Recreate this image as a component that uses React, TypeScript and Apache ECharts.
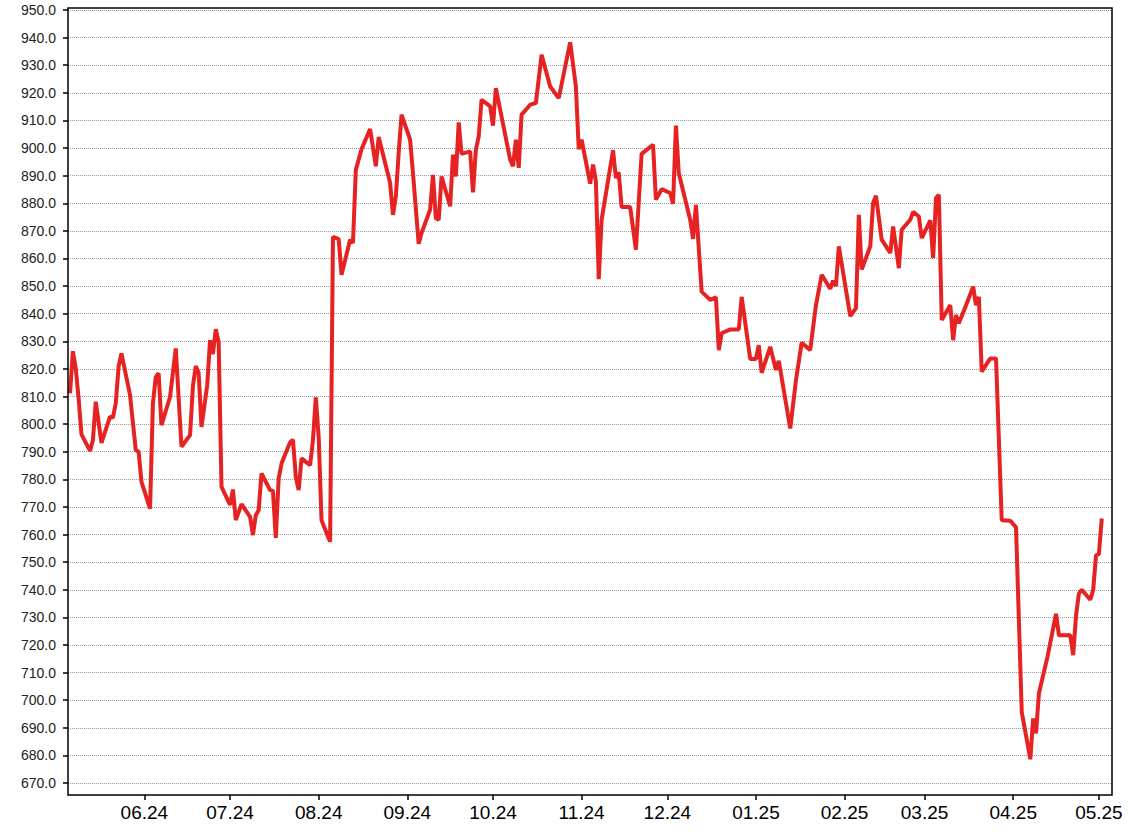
import React, { useEffect, useRef } from "react";
import * as echarts from "echarts";

const dates: string[] = [
  "2024-05-06", "2024-05-07", "2024-05-08", "2024-05-09", "2024-05-10", "2024-05-13", "2024-05-14", "2024-05-15",
  "2024-05-17", "2024-05-20", "2024-05-21", "2024-05-22", "2024-05-23", "2024-05-24", "2024-05-27", "2024-05-29",
  "2024-05-30", "2024-05-31",
  "2024-06-03", "2024-06-04", "2024-06-05", "2024-06-06", "2024-06-07", "2024-06-10", "2024-06-12", "2024-06-14",
  "2024-06-17", "2024-06-18", "2024-06-19", "2024-06-20", "2024-06-21", "2024-06-23", "2024-06-24", "2024-06-25",
  "2024-06-26", "2024-06-27", "2024-06-28",
  "2024-07-01", "2024-07-02", "2024-07-03", "2024-07-05", "2024-07-08", "2024-07-09", "2024-07-10", "2024-07-11",
  "2024-07-12", "2024-07-15", "2024-07-16", "2024-07-17", "2024-07-18", "2024-07-19", "2024-07-22", "2024-07-23",
  "2024-07-24", "2024-07-25", "2024-07-26", "2024-07-29", "2024-07-30", "2024-07-31",
  "2024-08-01", "2024-08-02", "2024-08-05", "2024-08-06", "2024-08-08", "2024-08-09", "2024-08-12", "2024-08-13",
  "2024-08-14", "2024-08-16", "2024-08-19", "2024-08-21", "2024-08-22", "2024-08-26", "2024-08-27", "2024-08-28",
  "2024-08-29", "2024-08-30",
  "2024-09-02", "2024-09-03", "2024-09-05", "2024-09-06", "2024-09-09", "2024-09-10", "2024-09-11", "2024-09-12",
  "2024-09-13", "2024-09-16", "2024-09-17", "2024-09-18", "2024-09-19", "2024-09-20", "2024-09-23", "2024-09-24",
  "2024-09-25", "2024-09-26", "2024-09-27", "2024-09-30",
  "2024-10-01", "2024-10-02", "2024-10-07", "2024-10-08", "2024-10-09", "2024-10-10", "2024-10-11", "2024-10-14",
  "2024-10-16", "2024-10-18", "2024-10-21", "2024-10-24", "2024-10-28", "2024-10-30", "2024-10-31",
  "2024-11-01", "2024-11-04", "2024-11-05", "2024-11-06", "2024-11-07", "2024-11-08", "2024-11-12", "2024-11-13",
  "2024-11-14", "2024-11-15", "2024-11-18", "2024-11-20", "2024-11-22", "2024-11-26", "2024-11-27", "2024-11-29",
  "2024-12-02", "2024-12-03", "2024-12-04", "2024-12-05", "2024-12-09", "2024-12-10", "2024-12-11", "2024-12-13",
  "2024-12-16", "2024-12-18", "2024-12-19", "2024-12-20", "2024-12-23", "2024-12-26", "2024-12-27", "2024-12-30",
  "2025-01-01", "2025-01-02", "2025-01-03", "2025-01-06", "2025-01-08", "2025-01-09", "2025-01-13", "2025-01-15",
  "2025-01-17", "2025-01-20", "2025-01-22", "2025-01-24", "2025-01-27", "2025-01-28", "2025-01-29", "2025-01-30",
  "2025-02-03", "2025-02-05", "2025-02-06", "2025-02-07", "2025-02-10", "2025-02-11", "2025-02-12", "2025-02-14",
  "2025-02-17", "2025-02-18", "2025-02-20", "2025-02-21", "2025-02-24", "2025-02-25", "2025-02-27", "2025-02-28",
  "2025-03-03", "2025-03-04", "2025-03-05", "2025-03-06", "2025-03-07", "2025-03-10", "2025-03-11", "2025-03-12",
  "2025-03-13", "2025-03-16", "2025-03-18", "2025-03-19", "2025-03-20", "2025-03-21", "2025-03-24", "2025-03-26",
  "2025-03-28", "2025-03-31",
  "2025-04-02", "2025-04-04", "2025-04-07", "2025-04-08", "2025-04-09", "2025-04-10", "2025-04-13", "2025-04-16",
  "2025-04-17", "2025-04-21", "2025-04-22", "2025-04-23", "2025-04-24", "2025-04-25", "2025-04-28", "2025-04-29",
  "2025-04-30", "2025-05-01", "2025-05-02",
];

const values: number[] = [
  811.1, 826.4, 820.2, 809.3, 796.3, 790.3, 794.2, 808.1,
  793.2, 802.7, 802.3, 807.5, 820.8, 825.6, 810.5, 790.6,
  790.0, 779.1,
  769.4, 807.5, 817.1, 818.4, 799.6, 809.9, 827.4, 791.8,
  796.0, 813.8, 821.0, 818.6, 799.0, 814.1, 830.4, 825.4,
  834.4, 829.8, 777.3,
  770.7, 776.3, 765.2, 771.0, 766.4, 759.8, 767.0, 768.8,
  782.1, 776.1, 775.8, 758.8, 780.3, 785.7, 793.4, 794.4,
  780.9, 776.1, 787.6, 785.1, 794.2, 809.7,
  795.4, 765.2, 757.4, 867.8, 867.0, 854.1, 866.8, 865.6,
  892.1, 899.6, 906.9, 893.4, 904.0, 887.3, 875.8, 882.5,
  898.2, 912.1,
  903.0, 890.9, 865.3, 869.2, 877.7, 890.3, 874.6, 874.0,
  889.7, 878.9, 897.6, 889.7, 909.3, 897.9, 898.8, 883.9,
  899.4, 904.2, 917.5, 915.1,
  908.1, 921.7, 895.8, 893.4, 903.0, 892.8, 912.1, 915.7,
  916.3, 933.8, 922.3, 918.1, 938.3, 922.3, 899.6,
  903.0, 887.1, 894.0, 887.9, 852.5, 874.0, 899.2, 889.1,
  891.2, 878.6, 878.6, 863.2, 897.9, 901.2, 881.3, 885.1,
  883.7, 879.8, 908.1, 890.9, 874.0, 867.1, 879.4, 848.0,
  845.0, 845.9, 826.8, 832.9, 834.3, 834.3, 846.1, 823.6,
  823.6, 828.6, 818.6, 828.0, 819.6, 822.9, 798.4, 815.9,
  829.5, 826.8, 843.1, 854.1, 849.0, 852.0, 850.0, 864.4,
  839.1, 842.0, 875.8, 856.0, 864.4, 880.1, 882.7, 866.8,
  862.0, 871.6, 856.5, 870.4, 874.0, 876.9, 875.2, 867.4,
  873.8, 860.1, 881.9, 883.1, 837.7, 843.1, 830.4, 839.5,
  836.5, 844.3, 849.8, 843.1, 846.1, 819.0, 823.8, 823.8,
  765.2, 765.0,
  762.6, 695.8, 678.6, 693.4, 688.0, 702.4, 715.7, 731.3,
  723.5, 723.5, 716.3, 730.7, 738.6, 740.0, 736.4, 740.0,
  752.5, 752.9, 765.8,
];

const monthTicks: string[] = [
  "2024-06-01", "2024-07-01", "2024-08-01", "2024-09-01", "2024-10-01", "2024-11-01",
  "2024-12-01", "2025-01-01", "2025-02-01", "2025-03-01", "2025-04-01", "2025-05-01",
];

const yMin = 670;
const yMax = 950;
const yStep = 10;

function utc(s: string): number {
  const [y, m, d] = s.split("-").map(Number);
  return Date.UTC(y, m - 1, d);
}

const FONT = "'Liberation Sans', Arial, Helvetica, sans-serif";
const RED = "#E62222";

export default function App() {
  const ref = useRef<HTMLDivElement>(null);
  useEffect(() => {
    if (!ref.current) return;
    const chart = echarts.init(ref.current, null, { renderer: "svg" });
    const monthValues = monthTicks.map(utc);
    chart.setOption({
      animation: false,
      backgroundColor: "#ffffff",
      grid: { left: 68, right: 16, top: 10, bottom: 53, containLabel: false },
      xAxis: {
        type: "value",
        min: Date.UTC(2024, 4, 5, 7),
        max: Date.UTC(2025, 4, 5, 14),
        offset: 12,
        axisLine: { show: false },
        axisTick: {
          show: true,
          length: 5,
          customValues: monthValues,
          lineStyle: { color: "#000", width: 1.5 },
        },
        axisLabel: {
          customValues: monthValues,
          showMinLabel: true,
          showMaxLabel: true,
          hideOverlap: false,
          fontSize: 19,
          fontFamily: FONT,
          color: "#000",
          margin: 8,
          formatter: (v: number) => {
            const dt = new Date(v);
            const mm = String(dt.getUTCMonth() + 1).padStart(2, "0");
            const yy = String(dt.getUTCFullYear() % 100).padStart(2, "0");
            return `${mm}.${yy}`;
          },
        },
        splitLine: { show: false },
      },
      yAxis: {
        type: "value",
        min: yMin,
        max: yMax,
        interval: yStep,
        axisLine: { show: false },
        axisTick: { show: true, length: 5, lineStyle: { color: "#000", width: 1.5 } },
        axisLabel: {
          fontSize: 14,
          fontFamily: FONT,
          color: "#222",
          margin: 12,
          formatter: (v: number) => v.toFixed(1),
        },
        splitLine: { show: true, lineStyle: { color: "#9a9a9a", width: 1, type: [1, 1] } },
      },
      graphic: [
        {
          type: "rect",
          silent: true,
          z: 100,
          shape: { x: 68, y: 8, width: 1044, height: 787 },
          style: { fill: "none", stroke: "#000", lineWidth: 1.5 },
        },
      ],
      series: [
        {
          type: "line",
          data: dates.map((d, i) => [utc(d), values[i]]),
          showSymbol: false,
          lineStyle: { color: RED, width: 4 },
          itemStyle: { color: RED },
        },
      ],
    });
    return () => chart.dispose();
  }, []);
  return <div ref={ref} style={{ position: "absolute", left: 0, top: 0, width: 1128, height: 836 }} />;
}
